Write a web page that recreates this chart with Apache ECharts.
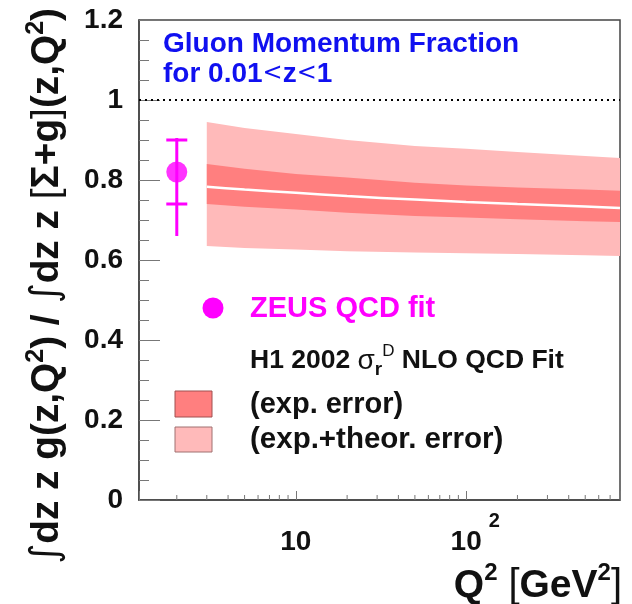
<!DOCTYPE html>
<html><head><meta charset="utf-8">
<script src="https://cdn.jsdelivr.net/npm/echarts@6/dist/echarts.min.js"></script>
<style>html,body{margin:0;padding:0;background:#fff}#c{width:632px;height:604px}</style>
</head><body><div id="c"></div>
<script>
// ---- data ----
const xMin = 1.2, xMax = 800;
const yTickMin = 0, yTickMax = 1.2, yTickStep = 0.2;
const bandQ2   = [3, 5, 10, 20, 50, 100, 200, 500, 800];
const center   = [0.783, 0.776, 0.768, 0.760, 0.751, 0.745, 0.740, 0.734, 0.730];
const expLow   = [0.740, 0.733, 0.726, 0.718, 0.710, 0.706, 0.702, 0.697, 0.695];
const expHigh  = [0.840, 0.828, 0.815, 0.806, 0.793, 0.786, 0.781, 0.776, 0.773];
const totLow   = [0.635, 0.630, 0.626, 0.622, 0.619, 0.617, 0.615, 0.612, 0.610];
const totHigh  = [0.945, 0.930, 0.915, 0.900, 0.885, 0.878, 0.870, 0.860, 0.855];
const zeusQ2     = [2];
const zeusVal    = [0.82];
const zeusStatLo = [0.74];
const zeusStatHi = [0.90];
const zeusTotLo  = [0.66];
const zeusTotHi  = [0.905];
const refLineY = 1;
const xMinorTicks = [2,3,4,5,6,7,8,9,20,30,40,50,60,70,80,90,200,300,400,500,600,700,800];

const FONT = '"Liberation Sans", Arial, Helvetica, sans-serif';
const chart = echarts.init(document.getElementById('c'), null, {renderer: 'canvas'});

function bandSeries(lo, hi, color, z) {
  return {
    type: 'custom', silent: true, z: z, clip: true,
    data: [[bandQ2[0], hi[0]]],
    renderItem: function (params, api) {
      const pts = [];
      for (let i = 0; i < bandQ2.length; i++) pts.push(api.coord([bandQ2[i], hi[i]]));
      for (let i = bandQ2.length - 1; i >= 0; i--) pts.push(api.coord([bandQ2[i], lo[i]]));
      return {type: 'polygon', shape: {points: pts}, style: {fill: color}};
    }
  };
}

const option = {
  animation: false,
  backgroundColor: '#fff',
  grid: {left: 139, right: 12, top: 20, bottom: 104, show: true, borderColor: '#444', borderWidth: 1.5},
  xAxis: {
    type: 'log', logBase: 10, min: xMin, max: xMax,
    axisLine: {show: true, lineStyle: {color: '#444', width: 1.5}},
    axisTick: {show: true, inside: true, length: 9, lineStyle: {color: '#777', width: 1}},
    splitLine: {show: false},
    axisLabel: {
      margin: 11,
      formatter: function (v) {
        const l = Math.log10(v), e = Math.round(l);
        if (Math.abs(l - e) > 1e-6) return '';
        if (e === 1) return '{b|10}';
        return '{sp|' + e + '}{b|10}{sup|' + e + '}';
      },
      rich: {
        b: {fontSize: 28, fontWeight: 'bold', color: '#111', fontFamily: FONT, lineHeight: 62},
        sup: {fontSize: 20, fontWeight: 'bold', color: '#111', fontFamily: FONT, lineHeight: 20, verticalAlign: 'top', padding: [0, 0, 0, 7]},
        sp: {fontSize: 20, fontWeight: 'bold', color: 'rgba(0,0,0,0)', fontFamily: FONT, lineHeight: 20, verticalAlign: 'top', padding: [0, 7, 0, 0]}
      }
    }
  },
  yAxis: {
    type: 'value', min: yTickMin, max: yTickMax, interval: yTickStep,
    axisLine: {show: true, lineStyle: {color: '#444', width: 1.5}},
    axisTick: {show: true, inside: true, length: 21, lineStyle: {color: '#777', width: 1}},
    minorTick: {show: true, splitNumber: 4, length: 10, lineStyle: {color: '#777', width: 1}},
    splitLine: {show: false}, minorSplitLine: {show: false},
    axisLabel: {fontSize: 28, fontWeight: 'bold', color: '#111', fontFamily: FONT, margin: 16}
  },
  series: [
    bandSeries(totLow, totHigh, '#ffbaba', 1),
    bandSeries(expLow, expHigh, '#ff7f7f', 2),
    {
      type: 'line', z: 3, silent: true, symbol: 'none', smooth: true,
      data: bandQ2.map((q, i) => [q, center[i]]),
      lineStyle: {color: '#ffffff', width: 2.5}
    },
    {
      type: 'line', z: 4, silent: true, symbol: 'none',
      data: [[xMin, refLineY], [xMax, refLineY]],
      lineStyle: {color: '#000', width: 2, type: [2, 4]}
    },
    {
      type: 'custom', z: 5, silent: true, clip: false,
      data: xMinorTicks.map(v => [v, 0]),
      renderItem: function (params, api) {
        const p = api.coord([api.value(0), 0]);
        return {type: 'line', shape: {x1: p[0], y1: p[1], x2: p[0], y2: p[1] - 5}, style: {stroke: '#777', lineWidth: 1}};
      }
    },
    {
      type: 'custom', z: 6, silent: true,
      data: zeusQ2.map((q, i) => [q, zeusVal[i]]),
      renderItem: function (params, api) {
        const i = params.dataIndex, q = api.value(0);
        const top = api.coord([q, zeusTotHi[i]]), bot = api.coord([q, zeusTotLo[i]]);
        const sh = api.coord([q, zeusStatHi[i]]), sl = api.coord([q, zeusStatLo[i]]);
        const w = 10.5, st = {stroke: '#ff00ff', lineWidth: 3};
        return {type: 'group', children: [
          {type: 'line', shape: {x1: top[0], y1: top[1], x2: bot[0], y2: bot[1]}, style: st},
          {type: 'line', shape: {x1: sh[0] - w, y1: sh[1], x2: sh[0] + w, y2: sh[1]}, style: st},
          {type: 'line', shape: {x1: sl[0] - w, y1: sl[1], x2: sl[0] + w, y2: sl[1]}, style: st}
        ]};
      }
    },
    {
      type: 'scatter', z: 7, silent: true, symbol: 'circle', symbolSize: 21,
      itemStyle: {color: '#ff00ff'},
      data: zeusQ2.map((q, i) => [q, zeusVal[i]])
    }
  ],
  graphic: [
    {type: 'text', x: 163, y: 44, style: {text: 'Gluon Momentum Fraction', font: 'bold 28px ' + FONT, fill: '#1010f0', textVerticalAlign: 'middle'}},
    {type: 'text', x: 163, y: 74, style: {
      text: '{m|for 0.01}{l|<}{m|z}{l|<}{m|1}', textVerticalAlign: 'middle',
      rich: {
        m: {fontSize: 28, fontWeight: 'bold', fontFamily: FONT, fill: '#1010f0'},
        l: {fontSize: 24, fontFamily: '"DejaVu Sans", ' + FONT, fill: '#1010f0'}
      }
    }},
    {type: 'circle', shape: {cx: 213, cy: 308, r: 10.5}, style: {fill: '#ff00ff'}},
    {type: 'text', x: 250, y: 309, style: {text: 'ZEUS QCD fit', font: 'bold 29px ' + FONT, fill: '#ff00ff', textVerticalAlign: 'middle'}},
    {type: 'text', x: 250, y: 361, style: {
      text: '{m|H1 2002 }{g|σ}{sub|r}{sup|D}{m| NLO QCD Fit}',
      textVerticalAlign: 'middle',
      rich: {
        m: {fontSize: 26.5, fontWeight: 'bold', fontFamily: FONT, fill: '#111', lineHeight: 36},
        g: {fontSize: 28, fontFamily: FONT, fill: '#111', lineHeight: 36},
        sub: {fontSize: 19, fontWeight: 'bold', fontFamily: FONT, fill: '#111', lineHeight: 19, verticalAlign: 'bottom'},
        sup: {fontSize: 17, fontFamily: FONT, fill: '#111', lineHeight: 17, verticalAlign: 'top'}
      }
    }},
    {type: 'rect', shape: {x: 175, y: 391, width: 37, height: 26}, style: {fill: '#ff7f7f', stroke: '#a05050', lineWidth: 1}},
    {type: 'text', x: 250, y: 405, style: {text: '(exp. error)', font: 'bold 29px ' + FONT, fill: '#111', textVerticalAlign: 'middle'}},
    {type: 'rect', shape: {x: 175, y: 427, width: 37, height: 25}, style: {fill: '#ffbaba', stroke: '#a07070', lineWidth: 1}},
    {type: 'text', x: 250, y: 440, style: {text: '(exp.+theor. error)', font: 'bold 29.5px ' + FONT, fill: '#111', textVerticalAlign: 'middle'}},
    {type: 'text', x: 622, y: 586, style: {
      text: '{m|Q}{sup|2}{m| }{br|[}{m|GeV}{sup|2}{br|]}',
      textAlign: 'right', textVerticalAlign: 'middle',
      rich: {
        m: {fontSize: 39, fontWeight: 'bold', fontFamily: FONT, fill: '#111', lineHeight: 50},
        br: {fontSize: 40, fontFamily: FONT, fill: '#111', lineHeight: 50},
        sup: {fontSize: 24, fontWeight: 'bold', fontFamily: FONT, fill: '#111', lineHeight: 24, verticalAlign: 'top'}
      }
    }},
    {type: 'text', x: 47, y: 286, rotation: Math.PI / 2, style: {
      text: '{i|∫}{m|dz z g(z,Q}{sup|2}{m|) / }{i|∫}{m|dz z }{br|[}{m|Σ+g}{br|]}{m|(z,Q}{sup|2}{m|)}',
      textAlign: 'center', textVerticalAlign: 'middle',
      rich: {
        m: {fontSize: 38.8, fontWeight: 'bold', fontFamily: FONT, fill: '#111', lineHeight: 46},
        i: {fontSize: 38.8, fontFamily: '"DejaVu Sans", ' + FONT, fill: '#111', lineHeight: 46},
        br: {fontSize: 38.8, fontFamily: FONT, fill: '#111', lineHeight: 46},
        sup: {fontSize: 25, fontWeight: 'bold', fontFamily: FONT, fill: '#111', lineHeight: 25, verticalAlign: 'top'}
      }
    }}
  ]
};
chart.setOption(option);
</script>
</body></html>
